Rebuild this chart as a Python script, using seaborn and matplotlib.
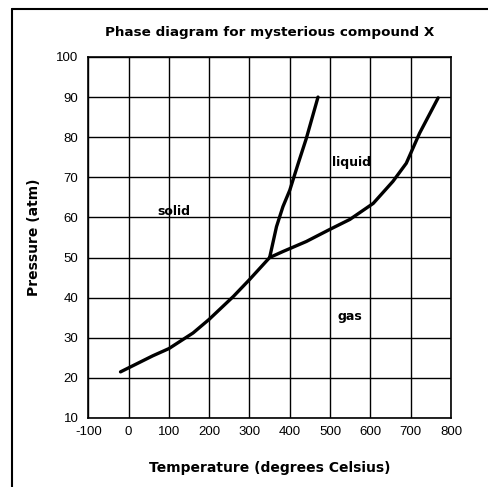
import pandas as pd
import numpy as np
import matplotlib.pyplot as plt
import seaborn as sns
from matplotlib.lines import Line2D

# solid-gas boundary (sublimation)
sub_t = [-20, 20, 60, 100, 160, 200, 260, 300, 350]
sub_p = [21.5, 23.5, 25.5, 27.3, 31.2, 34.6, 40.3, 44.5, 50]

# solid-liquid boundary (melting)
melt_t = [350, 367, 383, 400, 421, 441, 470]
melt_p = [50, 57.7, 62.7, 66.8, 73.5, 79.7, 90]

# liquid-gas boundary (boiling)
boil_t = [350, 383, 441, 499, 549, 607, 656, 689, 722, 768]
boil_p = [50, 51.5, 54, 57, 59.5, 63.5, 69, 73.5, 81, 89.8]

region_names = ["solid", "liquid", "gas"]
region_t = [112, 554, 549]
region_p = [61.6, 73.6, 35.2]

x_ticks = list(range(-100, 801, 100))
y_ticks = list(range(10, 101, 10))

sns.set_style("white")
plt.rcParams['font.family'] = ['Liberation Sans', 'DejaVu Sans']
plt.rcParams['axes.unicode_minus'] = False
plt.rcParams['text.color'] = 'black'
plt.rcParams['axes.labelcolor'] = 'black'
plt.rcParams['xtick.color'] = 'black'
plt.rcParams['ytick.color'] = 'black'

bold = dict(family="DejaVu Sans", fontweight="bold", color="black")

fig = plt.figure(figsize=(4.88, 4.87), dpi=100)
ax = fig.add_axes([0.1809, 0.1417, 0.7433, 0.7413])

for t, p in [(sub_t, sub_p), (melt_t, melt_p), (boil_t, boil_p)]:
    d = pd.DataFrame({"T": t, "P": p})
    sns.lineplot(data=d, x="T", y="P", sort=False, color="black", linewidth=2.4, ax=ax)

for name, t, p in zip(region_names, region_t, region_p):
    ax.text(t, p, name, ha="center", va="center", fontsize=9, **bold)

ax.set_xlim(-100, 800)
ax.set_ylim(10, 100)
ax.set_xticks(x_ticks)
ax.set_yticks(y_ticks)
ax.tick_params(axis="x", length=0, labelsize=9.5, pad=6)
ax.tick_params(axis="y", length=0, labelsize=9.5, pad=7)
ax.grid(True, color="black", linewidth=1.0)
for s in ax.spines.values():
    s.set_color("black")
    s.set_linewidth(1.2)

ax.set_xlabel("Temperature (degrees Celsius)", fontsize=10, labelpad=16, **bold)
ax.set_ylabel("Pressure (atm)", fontsize=10, labelpad=11, **bold)
ax.set_title("Phase diagram for mysterious compound X", fontsize=9.7, pad=15, **bold)

# outer frame (left and top edges visible)
fig.add_artist(Line2D([12 / 488, 12 / 488], [0, 1 - 9 / 487], color="black", linewidth=1.5, transform=fig.transFigure))
fig.add_artist(Line2D([12 / 488, 1], [1 - 9 / 487, 1 - 9 / 487], color="black", linewidth=1.5, transform=fig.transFigure))

fig.savefig("out.png", dpi=100)
